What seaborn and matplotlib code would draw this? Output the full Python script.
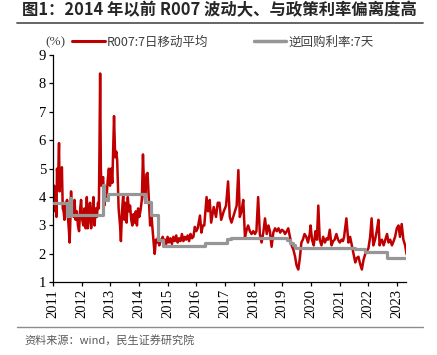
import matplotlib
matplotlib.use("Agg")
import matplotlib.pyplot as plt
import seaborn as sns
import pandas as pd
from matplotlib.lines import Line2D

# ---------------- data ----------------
r007_year = [
    2011.00, 2011.02, 2011.04, 2011.07, 2011.10, 2011.12, 2011.14, 2011.17, 2011.21, 2011.23,
    2011.26, 2011.29, 2011.31, 2011.34, 2011.37, 2011.40, 2011.43, 2011.46, 2011.49, 2011.52,
    2011.55, 2011.58, 2011.60, 2011.63, 2011.66, 2011.69, 2011.72, 2011.75, 2011.79, 2011.83,
    2011.87, 2011.91, 2011.95, 2011.98, 2012.02, 2012.06, 2012.10, 2012.14, 2012.18, 2012.21,
    2012.25, 2012.29, 2012.33, 2012.37, 2012.41, 2012.45, 2012.49, 2012.53, 2012.57, 2012.60,
    2012.62, 2012.645, 2012.67, 2012.69, 2012.72, 2012.75, 2012.79, 2012.83, 2012.87, 2012.91,
    2012.95, 2012.99, 2013.03, 2013.07, 2013.13, 2013.17, 2013.21, 2013.24, 2013.29, 2013.34,
    2013.37, 2013.41, 2013.45, 2013.49, 2013.53, 2013.57, 2013.61, 2013.65, 2013.69, 2013.73,
    2013.77, 2013.81, 2013.85, 2013.89, 2013.93, 2013.97, 2014.01, 2014.05, 2014.10, 2014.14,
    2014.18, 2014.22, 2014.26, 2014.30, 2014.34, 2014.39, 2014.44, 2014.48, 2014.52, 2014.55,
    2014.59, 2014.63, 2014.67, 2014.71, 2014.75, 2014.79, 2014.83, 2014.87, 2014.91, 2014.95,
    2015.00, 2015.05, 2015.10, 2015.15, 2015.20, 2015.25, 2015.30, 2015.35, 2015.40, 2015.45,
    2015.50, 2015.55, 2015.60, 2015.65, 2015.70, 2015.75, 2015.80, 2015.85, 2015.90, 2015.95,
    2016.00, 2016.05, 2016.13, 2016.18, 2016.23, 2016.28, 2016.36, 2016.41, 2016.47, 2016.52,
    2016.61, 2016.69, 2016.75, 2016.81, 2016.87, 2016.96, 2017.04, 2017.11, 2017.17, 2017.23,
    2017.29, 2017.35, 2017.41, 2017.47, 2017.52, 2017.58, 2017.64, 2017.70, 2017.76, 2017.81,
    2017.87, 2017.93, 2017.99, 2018.05, 2018.10, 2018.16, 2018.22, 2018.28, 2018.34, 2018.40,
    2018.46, 2018.52, 2018.57, 2018.63, 2018.69, 2018.75, 2018.81, 2018.87, 2018.93, 2018.99,
    2019.05, 2019.10, 2019.16, 2019.21, 2019.27, 2019.33, 2019.39, 2019.45, 2019.50, 2019.56,
    2019.61, 2019.67, 2019.72, 2019.78, 2019.84, 2019.90, 2019.96, 2019.99, 2020.04, 2020.10,
    2020.16, 2020.21, 2020.26, 2020.31, 2020.37, 2020.43, 2020.49, 2020.55, 2020.60, 2020.66,
    2020.72, 2020.78, 2020.83, 2020.89, 2020.95, 2021.01, 2021.07, 2021.12, 2021.16, 2021.24,
    2021.31, 2021.37, 2021.43, 2021.49, 2021.55, 2021.60, 2021.66, 2021.72, 2021.78, 2021.84,
    2021.90, 2021.96, 2022.01, 2022.07, 2022.12, 2022.18, 2022.24, 2022.30, 2022.36, 2022.40,
    2022.44, 2022.48, 2022.54, 2022.60, 2022.66, 2022.71, 2022.77, 2022.83, 2022.89, 2022.94,
    2023.00, 2023.06, 2023.11, 2023.17, 2023.23, 2023.29, 2023.34, 2023.38,
]
r007_value = [
    4.35, 3.6, 4.4, 3.5, 3.9, 3.3, 5.0, 4.3, 5.9, 4.2,
    5.0, 4.6, 5.05, 3.6, 3.5, 3.2, 3.8, 3.6, 3.9, 3.3,
    2.9, 2.4, 3.0, 4.2, 3.4, 3.7, 3.3, 3.9, 3.2, 3.5,
    3.0, 2.8, 3.6, 3.9, 3.2, 3.0, 3.6, 2.9, 4.0, 2.9,
    3.3, 3.8, 2.9, 3.4, 4.0, 3.0, 3.6, 3.3, 3.8, 3.6,
    5.5, 8.35, 5.0, 4.4, 4.6, 4.7, 3.7, 4.2, 4.0, 4.6,
    5.0, 4.4, 5.0, 4.5, 6.85, 5.4, 5.6, 5.3, 3.6, 3.0,
    2.45, 3.5, 4.1, 3.2, 3.8, 3.1, 4.0, 3.5, 3.7, 3.2,
    3.0, 3.4, 3.1, 3.5, 3.0, 3.6, 3.3, 3.5, 3.9, 5.5,
    4.3, 3.8, 4.8, 4.85, 4.0, 3.0, 3.3, 2.8, 2.3, 2.0,
    2.5, 2.4, 2.6, 2.3, 2.5, 2.45, 2.6, 2.4, 2.5, 2.35,
    2.6, 2.4, 2.55, 2.35, 2.6, 2.45, 2.65, 2.4, 2.55, 2.45,
    2.7, 2.45, 2.6, 2.5, 2.65, 2.45, 2.7, 2.55, 2.6, 2.95,
    2.8, 2.9, 3.35, 2.75, 3.0, 3.0, 4.0, 3.5, 3.9, 3.1,
    3.65, 3.3, 3.8, 3.8, 3.2, 3.5, 3.7, 4.55, 3.3, 3.1,
    3.3, 3.5, 3.7, 4.95, 3.3, 3.5, 3.9, 2.6, 2.85, 3.0,
    2.8, 2.7, 2.8, 2.7, 2.8, 4.0, 2.7, 2.4, 2.75, 3.25,
    2.7, 3.0, 2.8, 2.25, 2.75, 2.9, 2.8, 2.9, 2.75, 2.85,
    2.8, 2.7, 2.8, 2.9, 2.6, 2.3, 2.15, 1.9, 1.6, 1.45,
    1.8, 2.4, 2.5, 2.7, 2.6, 2.4, 2.7, 3.0, 2.5, 2.3,
    2.8, 2.5, 3.7, 2.5, 2.3, 2.6, 2.4, 2.55, 2.5, 2.85,
    2.3, 2.45, 2.5, 2.7, 2.5, 2.4, 2.5, 2.45, 2.6, 3.25,
    2.4, 2.6, 2.3, 2.0, 1.7, 1.85, 1.9, 1.65, 1.45, 1.8,
    2.0, 2.1, 2.2, 2.6, 3.25, 2.3, 2.5, 2.8, 3.2, 2.3,
    2.45, 2.5, 2.3, 2.5, 2.7, 2.4, 2.5, 2.3, 2.45, 2.6,
    2.9, 3.0, 2.6, 3.05, 2.5, 2.3, 2.0, 1.9,
]

repo_year = [
    2011.00, 2011.50, 2011.58, 2011.64, 2012.75, 2012.79, 2012.92, 2014.20, 2014.42, 2014.67,
    2014.84, 2016.30, 2017.06, 2017.20, 2019.15, 2019.28, 2019.38, 2019.45, 2021.55, 2021.90,
    2022.67, 2023.38,
]
repo_value = [
    3.78, 3.35, 3.97, 3.37, 4.42, 3.9, 4.12, 3.84, 3.37, 2.49,
    2.28, 2.37, 2.51, 2.57, 2.5, 2.4, 2.3, 2.22, 2.16, 2.05,
    1.85, 1.85,
]

year_ticks = list(range(2011, 2024))
year_labels = [str(y) for y in year_ticks]
y_ticks = list(range(1, 10))

label_r007 = "R007:7日移动平均"
label_repo = "逆回购利率:7天"
title = "图1：2014 年以前 R007 波动大、与政策利率偏离度高"
source = "资料来源：wind，民生证券研究院"

# ---------------- styling ----------------
sns.set_theme(style="white")
plt.rcParams["font.family"] = ["Noto Sans CJK SC", "DejaVu Sans"]
plt.rcParams["axes.unicode_minus"] = False

RED = "#C00000"
GRAY = "#969696"
serif = ["Liberation Serif", "DejaVu Serif"]

fig = plt.figure(figsize=(4.37, 3.55), dpi=100)
ax = fig.add_axes([0.1213, 0.2048, 0.8077, 0.6402])

df_r = pd.DataFrame({"year": r007_year, "value": r007_value})
df_g = pd.DataFrame({"year": repo_year, "value": repo_value})

sns.lineplot(data=df_r, x="year", y="value", ax=ax, color=RED, lw=1.8,
             estimator=None, sort=False, label=label_r007, zorder=2)
sns.lineplot(data=df_g, x="year", y="value", ax=ax, color=GRAY, lw=2.3,
             estimator=None, sort=False, drawstyle="steps-post",
             label=label_repo, zorder=3)

ax.set_xlim(2011.0, 2023.32)
ax.set_ylim(1, 9)
ax.set_xticks(year_ticks)
ax.set_xticklabels(year_labels, rotation=90, fontsize=10.5, family=serif, color="black")
ax.set_yticks(y_ticks)
ax.set_yticklabels([str(v) for v in y_ticks], fontsize=10.5, family=serif, color="black")
ax.set_xlabel("")
ax.set_ylabel("")

for s in ["top", "right"]:
    ax.spines[s].set_visible(False)
for s in ["left", "bottom"]:
    ax.spines[s].set_color("black")
    ax.spines[s].set_linewidth(0.9)
ax.tick_params(axis="both", direction="out", length=3, width=0.9, color="black", pad=2,
               left=True, bottom=True)

leg = ax.legend(loc="center left", bbox_to_anchor=(0.165, 0.882),
                bbox_transform=fig.transFigure, ncol=2, frameon=False,
                fontsize=9, handlelength=2.6, handletextpad=0.2, columnspacing=3.6,
                borderaxespad=0, borderpad=0)
for t in leg.get_texts():
    t.set_color("#404040")
leg.get_lines()[0].set_linewidth(2.2)
leg.get_lines()[1].set_linewidth(2.5)

fig.text(0.126, 0.882, "(%)", fontsize=9.5, family=serif, color="#404040",
         ha="center", va="center")

fig.text(0.05, 0.972, title, fontsize=11.8, fontweight="bold", color="#262626",
         ha="left", va="center")
fig.add_artist(Line2D([0.039, 0.968], [0.934, 0.934], transform=fig.transFigure,
                      color="#595959", lw=1.3))
fig.add_artist(Line2D([0.039, 0.968], [0.0775, 0.0775], transform=fig.transFigure,
                      color="#8c8c8c", lw=1.0))
fig.text(0.057, 0.042, source, fontsize=8, color="#595959", ha="left", va="center")

fig.savefig("out.png", dpi=100)
